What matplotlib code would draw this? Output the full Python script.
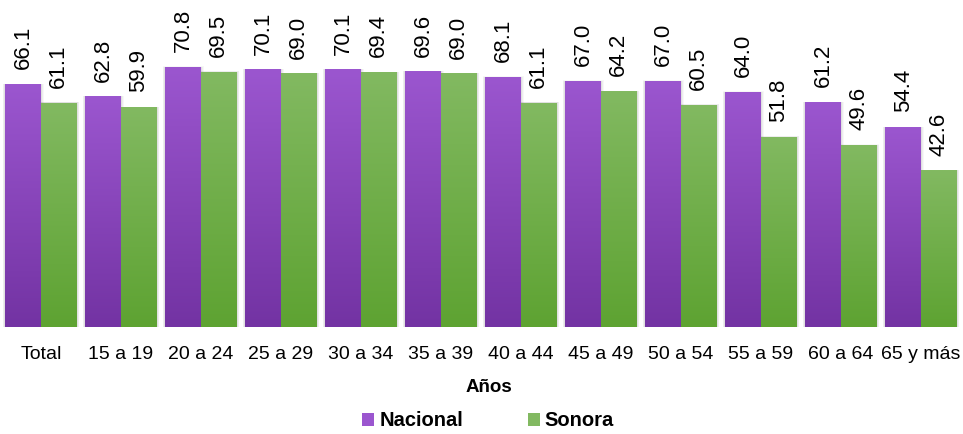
import numpy as np
import matplotlib.pyplot as plt
from matplotlib.colors import LinearSegmentedColormap
from matplotlib.patches import Patch

plt.rcParams['font.family'] = ['Liberation Sans', 'DejaVu Sans']

# data
categorias = ['Total', '15 a 19', '20 a 24', '25 a 29', '30 a 34', '35 a 39',
              '40 a 44', '45 a 49', '50 a 54', '55 a 59', '60 a 64', '65 y más']
nacional = [66.1, 62.8, 70.8, 70.1, 70.1, 69.6, 68.1, 67.0, 67.0, 64.0, 61.2, 54.4]
sonora = [61.1, 59.9, 69.5, 69.0, 69.4, 69.0, 61.1, 64.2, 60.5, 51.8, 49.6, 42.6]

morado_top, morado_bot = '#9b56cf', '#7333a3'
verde_top, verde_bot = '#82b961', '#5ea332'

fig = plt.figure(figsize=(9.63, 4.34), dpi=100)
fig.patch.set_facecolor('white')
ax = fig.add_axes([0, 0.2465, 1, 0.7535])

x = np.arange(len(categorias))
w = 0.445

def gradient_bars(xs, vals, top, bot, off):
    cmap = LinearSegmentedColormap.from_list('g', [bot, top])
    grad = np.linspace(1, 0, 100).reshape(-1, 1)
    bars = ax.bar(xs + off, vals, w, color='none', edgecolor='none', zorder=3)
    for b in bars:
        x0, h = b.get_x(), b.get_height()
        # soft shadow
        for k, a in enumerate([0.05, 0.04, 0.03]):
            d = 0.012 * (k + 1)
            ax.add_patch(plt.Rectangle((x0 - d, 0), w + 2 * d, h + d * 3,
                                       color='black', alpha=a, lw=0, zorder=2))
        im = ax.imshow(grad, cmap=cmap, extent=[x0, x0 + w, 0, h],
                       aspect='auto', zorder=3, origin='upper')
        im.set_clip_path(b)
    return bars

gradient_bars(x, nacional, morado_top, morado_bot, -w / 2)
gradient_bars(x, sonora, verde_top, verde_bot, w / 2)

for i in range(len(categorias)):
    ax.text(x[i] - w / 2, nacional[i] + 4.0, f'{nacional[i]:.1f}', rotation=90,
            ha='center', va='bottom', fontsize=16, zorder=4)
    ax.text(x[i] + w / 2, sonora[i] + 4.0, f'{sonora[i]:.1f}', rotation=90,
            ha='center', va='bottom', fontsize=16, zorder=4)

ax.set_xlim(-0.5125, 11.525)
ax.set_ylim(0, 89)
ax.set_xticks(x)
ax.set_xticklabels(categorias, fontsize=14)
ax.tick_params(axis='x', length=0, pad=14)
ax.set_yticks([])
for s in ax.spines.values():
    s.set_visible(False)
ax.patch.set_alpha(0)

fig.text(0.508, 0.108, 'Años', ha='center', va='center', fontsize=13.5, fontweight='bold')

handles = [Patch(facecolor=morado_top, edgecolor='none'),
           Patch(facecolor=verde_top, edgecolor='none')]
fig.legend(handles, ['Nacional', 'Sonora'], loc='center', bbox_to_anchor=(0.507, 0.03),
           ncol=2, frameon=False, prop={'size': 14.5, 'weight': 'bold'},
           handlelength=0.6, handleheight=0.6, handletextpad=0.25, columnspacing=3.2)

fig.savefig('out.png', dpi=100)
